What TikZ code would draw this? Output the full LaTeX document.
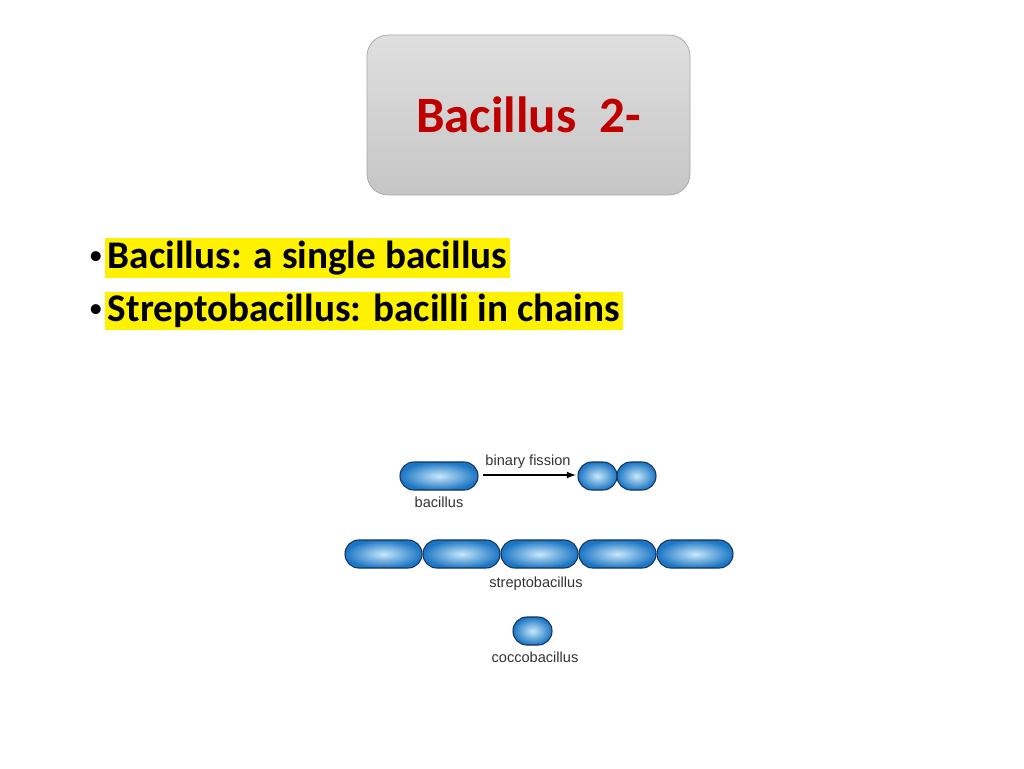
\documentclass[tikz,border=0pt]{standalone}
\usepackage{fontspec}
\setmainfont{Carlito}
\newfontfamily\arialf{Liberation Sans}
\definecolor{cellout}{RGB}{28,118,196}
\definecolor{cellin}{RGB}{200,232,250}
\definecolor{celledge}{RGB}{20,50,90}
\begin{document}
\begin{tikzpicture}[x=0.02cm,y=-0.02cm,
  cell/.style={draw=celledge,line width=0.6pt,rounded corners=7.9pt,inner color=cellin,outer color=cellout},
  lab/.style={font=\arialf\fontsize{8.3}{9}\selectfont,text=black!80},
  bul/.style={anchor=west,fill=yellow,inner sep=1.5pt,font=\bfseries\fontsize{22.3}{26}\selectfont}]
\useasboundingbox (0,0) rectangle (1024,768);
\node[draw=gray!70,rounded corners=12pt,top color=gray!25,bottom color=gray!45,minimum width=323*0.02cm,minimum height=160*0.02cm] (title) at (528.5,115) {};
\node[text=red!75!black,font=\bfseries\fontsize{29}{34}\selectfont] at (title) {Bacillus\ \ 2-};
\node[bul] (b1) at (105,258) {Bacillus: a single bacillus};
\node[bul] (b2) at (105,311) {Streptobacillus: bacilli in chains};
\node[anchor=east,inner sep=1pt,font=\fontsize{16}{21}\selectfont] at (b1.west) {\textbullet};
\node[anchor=east,inner sep=1pt,font=\fontsize{16}{21}\selectfont] at (b2.west) {\textbullet};
\draw[cell] (400,462) rectangle (478,490);
\coordinate (a1) at (483,475); \coordinate (a2) at (576,475);
\draw[-latex,line width=0.8pt] (a1) -- (a2);
\node[lab] at (528,462) {binary fission};
\node[lab] at (439,502) {bacillus};
\draw[cell] (578,462) rectangle (617,490);
\draw[cell] (617,462) rectangle (656,490);
\foreach \a/\b in {345/422,423/500,501/578,579/656,657/733}
  \draw[cell] (\a,540) rectangle (\b,568);
\node[lab] at (536,584) {streptobacillus};
\draw[cell] (513,617) rectangle (552,645);
\node[lab] at (535,657) {coccobacillus};
\end{tikzpicture}
\end{document}
